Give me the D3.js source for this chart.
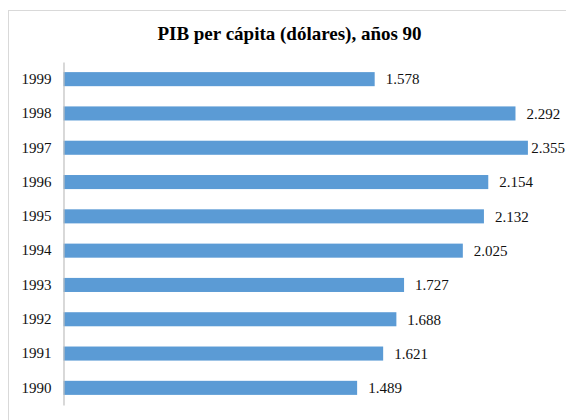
<!DOCTYPE html>
<html>
<head>
<meta charset="utf-8">
<script src="https://cdn.jsdelivr.net/npm/d3@7"></script>
<style>
  body { margin: 0; background: #fff; }
  text { font-family: "Liberation Serif", "Times New Roman", serif; }
</style>
</head>
<body>
<script>
// Data
var years = ["1999", "1998", "1997", "1996", "1995", "1994", "1993", "1992", "1991", "1990"];
var pib = [1578, 2292, 2355, 2154, 2132, 2025, 1727, 1688, 1621, 1489];
var titleText = "PIB per cápita (dólares), años 90";

var w = 566;
var h = 420;

var svg = d3.select("body")
    .append("svg")
    .attr("width", w)
    .attr("height", h);

// Outer chart border
svg.append("rect")
    .attr("x", 8.5)
    .attr("y", 10.5)
    .attr("width", 570)
    .attr("height", 420)
    .attr("fill", "none")
    .attr("stroke", "#d9d9d9");

svg.append("text")
    .attr("x", 289.5)
    .attr("y", 40)
    .attr("text-anchor", "middle")
    .attr("font-size", "19px")
    .attr("font-weight", "bold")
    .attr("fill", "#000")
    .text(titleText);

var x0 = 63.5;
var xScale = d3.scaleLinear()
    .domain([0, 2500])
    .range([x0, x0 + 2500 * 0.1972]);

var yScale = d3.scaleBand()
    .domain(years)
    .range([62, 405])
    .paddingInner(0.59)
    .paddingOuter(0.295);

// Spanish number formatting (1.578)
var es = d3.formatLocale({ decimal: ",", thousands: ".", grouping: [3], currency: ["", " €"] });
var fmt = es.format(",d");

svg.selectAll("rect.bar")
    .data(pib)
    .enter()
    .append("rect")
    .attr("class", "bar")
    .attr("x", xScale(0))
    .attr("y", function (d, i) { return yScale(years[i]); })
    .attr("width", function (d) { return xScale(d) - xScale(0); })
    .attr("height", yScale.bandwidth())
    .attr("fill", "#5b9bd5");

svg.selectAll("text.val")
    .data(pib)
    .enter()
    .append("text")
    .attr("class", "val")
    .attr("x", function (d) { return xScale(d) + 11; })
    .attr("y", function (d, i) { return yScale(years[i]) + yScale.bandwidth() / 2; })
    .attr("dy", "0.35em")
    .attr("font-size", "15px")
    .attr("fill", "#111")
    .text(function (d) { return fmt(d); })
    .each(function () {
        // keep labels inside the chart like Excel does
        var len = this.getComputedTextLength();
        var tx = +d3.select(this).attr("x");
        if (tx + len > w - 1) d3.select(this).attr("x", w - 1 - len);
    });

// Category axis
var yAxis = d3.axisLeft(yScale).tickSize(0).tickPadding(12);
var gy = svg.append("g")
    .attr("transform", "translate(" + x0 + ",0)")
    .call(yAxis);
gy.select(".domain").attr("stroke", "#bfbfbf").attr("stroke-width", 1.2);
gy.selectAll("text")
    .attr("font-size", "15px")
    .attr("font-family", "Liberation Serif, Times New Roman, serif")
    .attr("fill", "#111");
</script>
</body>
</html>
